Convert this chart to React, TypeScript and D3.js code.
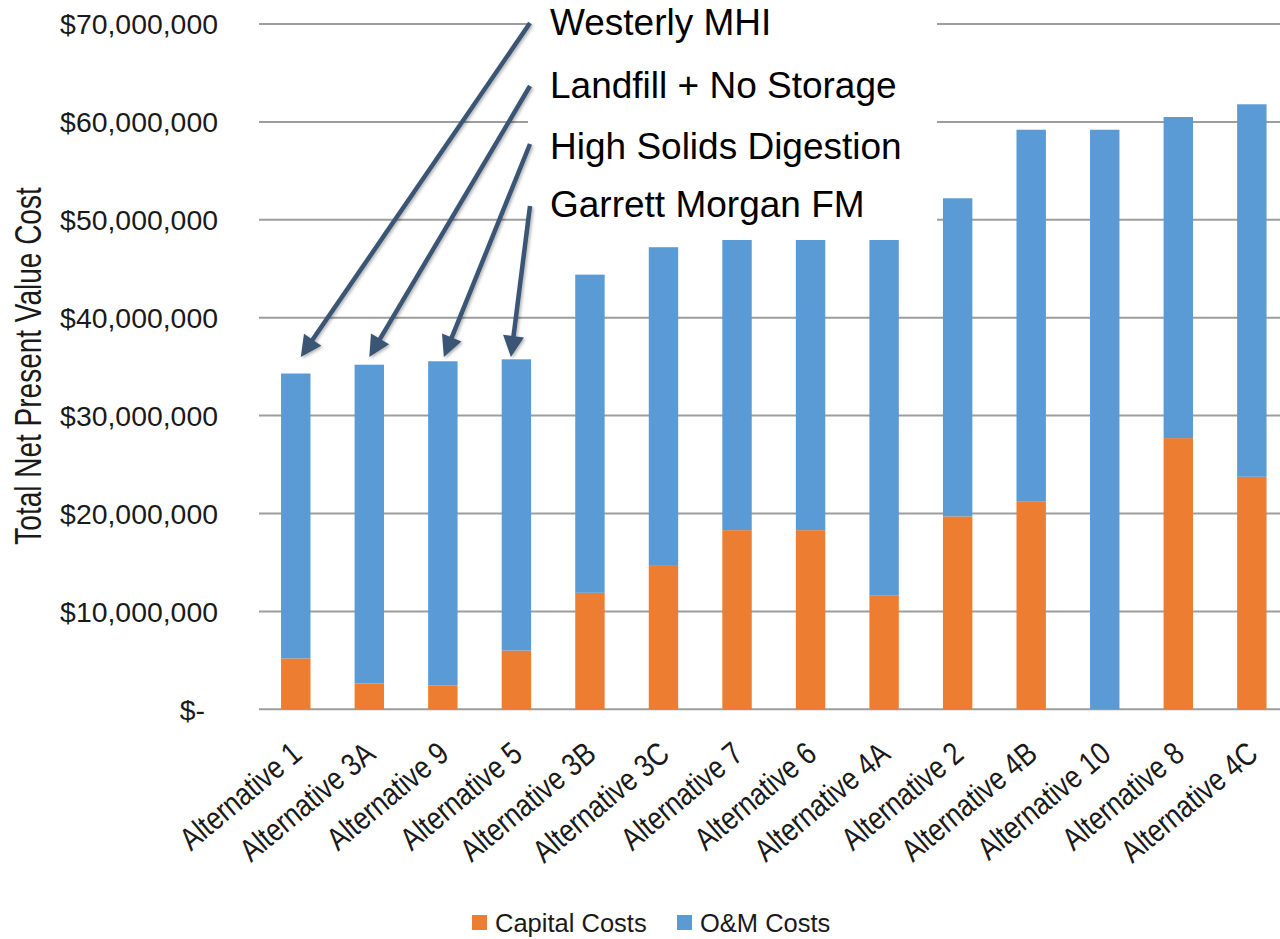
import React from "react";
import * as d3 from "d3";

// Alternatives, sorted by total net present value cost
const categories = [
  "Alternative 1",
  "Alternative 3A",
  "Alternative 9",
  "Alternative 5",
  "Alternative 3B",
  "Alternative 3C",
  "Alternative 7",
  "Alternative 6",
  "Alternative 4A",
  "Alternative 2",
  "Alternative 4B",
  "Alternative 10",
  "Alternative 8",
  "Alternative 4C",
];

// Capital costs ($)
const capitalCosts = [
  5200000, 2650000, 2450000, 6000000, 11900000, 14650000, 18300000, 18300000,
  11600000, 19700000, 21200000, 0, 27700000, 23750000,
];

// O&M costs ($)
const omCosts = [
  29100000, 32550000, 33100000, 29750000, 32500000, 32550000, 29700000,
  29700000, 36600000, 32500000, 38000000, 59200000, 32800000, 38050000,
];

const yTicks = [0, 10000000, 20000000, 30000000, 40000000, 50000000, 60000000, 70000000];

const seriesKeys = ["capital", "om"];
const seriesLabels = ["Capital Costs", "O&M Costs"];
const seriesColors = ["#ED7D31", "#5B9BD5"];

// Callouts: label text and the alternative each one points at
const callouts = ["Westerly MHI", "Landfill + No Storage", "High Solids Digestion", "Garrett Morgan FM"];
const calloutTargets = ["Alternative 1", "Alternative 3A", "Alternative 9", "Alternative 5"];

const W = 1280;
const H = 939;
const FONT = "'Liberation Sans', Arial, sans-serif";

export default function App() {
  const x = d3
    .scaleBand<string>()
    .domain(categories)
    .range([259, 1288.6])
    .paddingInner(0.6)
    .paddingOuter(0.3);

  const y = d3.scaleLinear().domain([0, 70000000]).range([709.3, 24]);

  const rows = categories.map((c, i) => ({ cat: c, capital: capitalCosts[i], om: omCosts[i] }));
  const stacked = d3.stack<any>().keys(seriesKeys)(rows);

  const fmt = d3.format("$,.0f");
  const tickLabel = (v: number) => (v === 0 ? "$-" : fmt(v));

  const arrowColor = "#3B5475";
  const calloutX = 530;
  const calloutYs = [23, 86, 144, 206];
  const calloutBaselines = [35, 97.5, 158.5, 217];
  const tipOffsets = [5, 0, 1, -5.5];
  const tipY = 357;

  const arrowPath = (x1: number, y1: number, x2: number, y2: number) => {
    const dx = x2 - x1;
    const dy = y2 - y1;
    const len = Math.hypot(dx, dy);
    const ux = dx / len;
    const uy = dy / len;
    const headLen = 21;
    const headW = 10.5;
    const bx = x2 - ux * headLen;
    const by = y2 - uy * headLen;
    const px = -uy;
    const py = ux;
    return {
      line: [x1, y1, bx + ux * 2, by + uy * 2],
      head: `${x2},${y2} ${bx + px * headW},${by + py * headW} ${bx - px * headW},${by - py * headW}`,
    };
  };

  return (
    <svg
      width={W}
      height={H}
      style={{ position: "absolute", left: 0, top: 0, background: "#fff" }}
      fontFamily={FONT}
    >
      <defs>
        <filter id="arrowShadow" x="-20%" y="-20%" width="140%" height="140%">
          <feDropShadow dx="1.5" dy="1.5" stdDeviation="1.5" floodColor="#000" floodOpacity="0.3" />
        </filter>
      </defs>

      {/* gridlines */}
      {yTicks.map((t) => (
        <line
          key={t}
          x1={259}
          x2={1290}
          y1={y(t)}
          y2={y(t)}
          stroke="#9d9d9d"
          strokeWidth={2}
        />
      ))}

      {/* y tick labels */}
      {yTicks.map((t) => (
        <text
          key={"l" + t}
          x={t === 0 ? 205 : 218}
          y={y(t)}
          dy="0.36em"
          textAnchor="end"
          fontSize={28.4}
          fill="#1a1a1a"
        >
          {tickLabel(t)}
        </text>
      ))}

      {/* y axis title */}
      <text
        transform={`translate(41, 366) rotate(-90) scale(1, 1.3)`}
        textAnchor="middle"
        fontSize={28}
        fill="#1a1a1a"
      >
        Total Net Present Value Cost
      </text>

      {/* stacked bars */}
      {stacked.map((s, si) => (
        <g key={s.key} fill={seriesColors[si]}>
          {s.map((d: any, i: number) =>
            d[1] - d[0] > 0 ? (
              <rect
                key={i}
                x={x(categories[i])!}
                width={x.bandwidth()}
                y={y(d[1])}
                height={y(d[0]) - y(d[1])}
              />
            ) : null
          )}
        </g>
      ))}

      {/* category labels */}
      {categories.map((c) => (
        <text
          key={"c" + c}
          transform={`translate(${x(c)! + x.bandwidth() / 2 + 8}, 757) rotate(-40) scale(1, 1.2)`}
          textAnchor="end"
          fontSize={26.5}
          fill="#1a1a1a"
        >
          {c}
        </text>
      ))}

      {/* callout panel */}
      <rect x={528} y={0} width={409} height={240} fill="#fff" />
      {callouts.map((label, i) => (
        <text key={label} x={550} y={calloutBaselines[i]} fontSize={37} fill="#000">
          {label}
        </text>
      ))}
      {callouts.map((label, i) => {
        const cat = calloutTargets[i];
        const tx = x(cat)! + x.bandwidth() / 2 + tipOffsets[i];
        const a = arrowPath(calloutX, calloutYs[i], tx, tipY);
        return (
          <g key={"a" + label} filter="url(#arrowShadow)">
            <line
              x1={a.line[0]}
              y1={a.line[1]}
              x2={a.line[2]}
              y2={a.line[3]}
              stroke={arrowColor}
              strokeWidth={4.5}
            />
            <polygon points={a.head} fill={arrowColor} />
          </g>
        );
      })}

      {/* legend */}
      {seriesLabels.map((l, i) => {
        const lx = i === 0 ? 472 : 677;
        return (
          <g key={l}>
            <rect x={lx} y={915} width={15} height={15} fill={seriesColors[i]} />
            <text x={lx + 23} y={923} dy="0.36em" fontSize={25.5} fill="#1a1a1a">
              {l}
            </text>
          </g>
        );
      })}
    </svg>
  );
}
